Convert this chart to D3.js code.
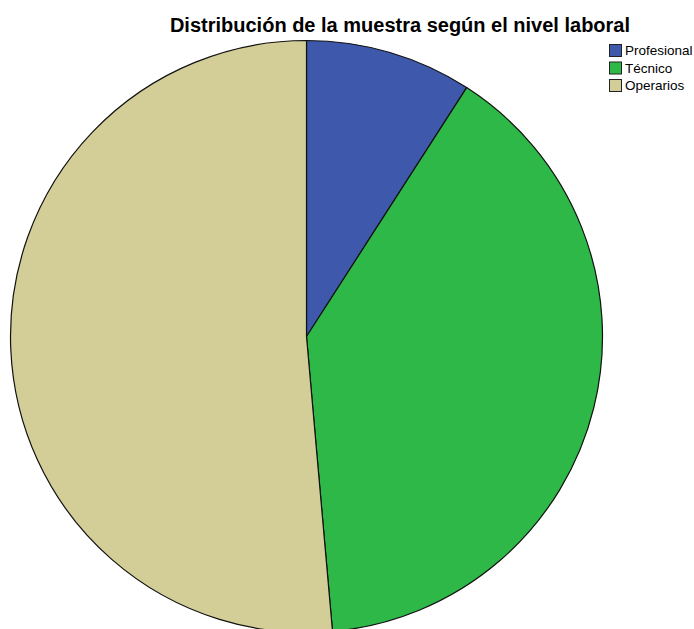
<!DOCTYPE html>
<html lang="es">
<head>
<meta charset="UTF-8">
<title>Distribución de la muestra</title>
<script src="https://cdn.jsdelivr.net/npm/d3@7"></script>
<style>
  body { margin: 0; background: #fff; }
  svg { display: block; font-family: "Liberation Sans", Arial, sans-serif; }
</style>
</head>
<body>
<div id="chart"></div>
<script>
const categories = ["Profesional", "Técnico", "Operarios"]
const percents = [9.1, 39.5, 51.4]
const colors = ["#3e58ac", "#2eb848", "#d3ce97"]

const width = 694
const height = 629
const cx = 306.5
const cy = 336.5
const radius = 296

const svg = d3.select("#chart")
  .append("svg")
  .attr("width", width)
  .attr("height", height)

const data = categories.map((c, i) => ({ name: c, value: percents[i], color: colors[i] }))

const pie = d3.pie()
  .value(d => d.value)
  .sort(null)

const arc = d3.arc()
  .innerRadius(0)
  .outerRadius(radius)

svg.append("g")
  .attr("transform", `translate(${cx}, ${cy})`)
  .selectAll("path")
  .data(pie(data))
  .enter()
  .append("path")
  .attr("d", arc)
  .attr("fill", d => d.data.color)
  .attr("stroke", "#111")
  .attr("stroke-width", 1.2)
  .attr("stroke-linejoin", "round")

svg.append("text")
  .attr("x", 400)
  .attr("y", 32)
  .attr("text-anchor", "middle")
  .style("font-size", "20px")
  .style("font-weight", "bold")
  .attr("fill", "#000")
  .text("Distribución de la muestra según el nivel laboral")

const legend = svg.append("g")
  .attr("transform", "translate(609, 44)")

const rows = legend.selectAll("g")
  .data(data)
  .enter()
  .append("g")
  .attr("transform", (_, i) => `translate(0, ${i * 17.5})`)

rows.append("rect")
  .attr("x", 0.5)
  .attr("y", 0.5)
  .attr("width", 12)
  .attr("height", 12)
  .attr("fill", d => d.color)
  .attr("stroke", "#222")
  .attr("stroke-width", 1)

rows.append("text")
  .attr("x", 16)
  .attr("y", 11)
  .style("font-size", "13.5px")
  .attr("fill", "#000")
  .text(d => d.name)
</script>
</body>
</html>
